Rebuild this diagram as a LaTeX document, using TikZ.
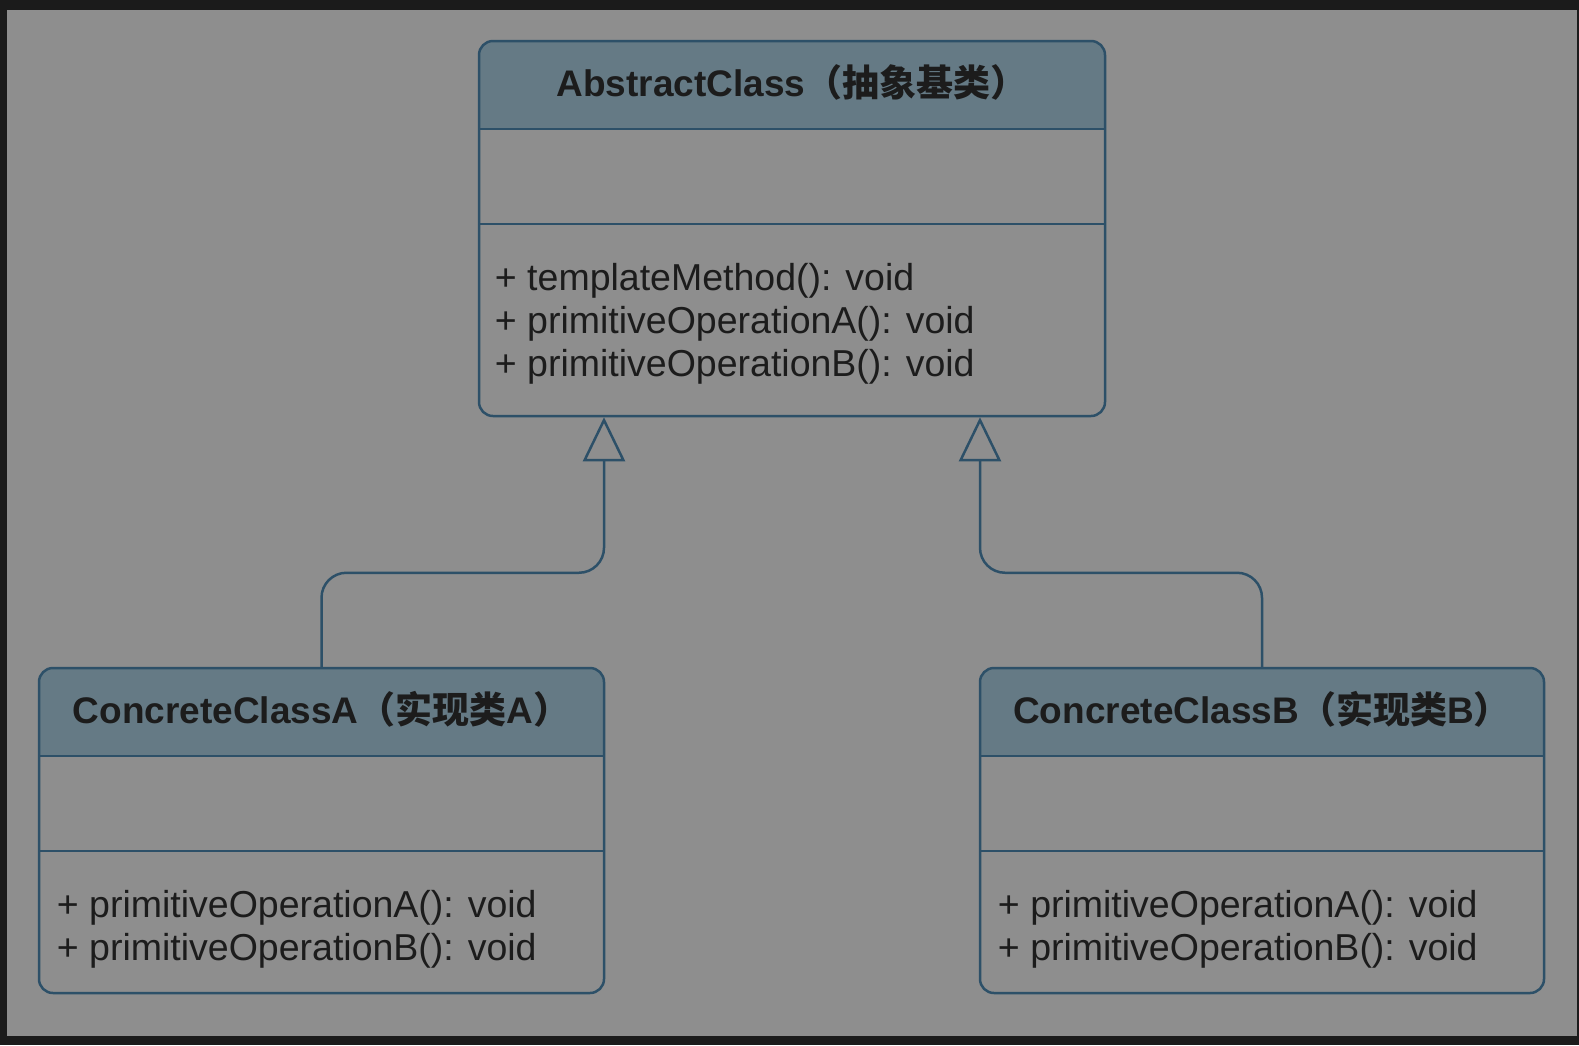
\documentclass[tikz,border=0pt]{standalone}
\usepackage{fontspec}
\setmainfont{Liberation Sans}
\newfontfamily\cjk{Noto Sans CJK SC}
\usetikzlibrary{arrows.meta,calc}

\definecolor{frame}{HTML}{1B1B1B}
\definecolor{bg}{HTML}{8E8E8E}
\definecolor{headfill}{HTML}{657A85}
\definecolor{edge}{HTML}{2D5068}
\definecolor{ink}{HTML}{1C1C1C}

\tikzset{
	umlclass/.style 2 args={draw=edge,line width=2.5pt,rounded corners=14pt,minimum width=#1,minimum height=#2,inner sep=0pt,
		path picture={
			\fill[headfill,sharp corners] (path picture bounding box.north west) rectangle ([yshift=-88pt]path picture bounding box.north east);
			\draw[edge,line width=2.5pt,sharp corners] ([yshift=-88pt]path picture bounding box.north west) -- ([yshift=-88pt]path picture bounding box.north east);
			\draw[edge,line width=2.5pt,sharp corners] ([yshift=-183pt]path picture bounding box.north west) -- ([yshift=-183pt]path picture bounding box.north east);
		}},
	ttl/.style={anchor=base,inner sep=0pt,text=ink,font=\fontsize{37pt}{44pt}\selectfont\bfseries},
	op/.style={anchor=base west,inner sep=0pt,text=ink,font=\fontsize{37.5pt}{44pt}\selectfont}
}

\begin{document}
\begin{tikzpicture}[x=1pt,y=-1pt,
	inherit/.style={draw=edge,line width=2.5pt,-{Triangle[open,length=44pt,width=42pt]}}]
	% frame and canvas
	\fill[frame] (0,0) rectangle (1579,1045);
	\fill[bg] (7,10) rectangle (1577,1036);

	% classes
	\node[umlclass={626pt}{375pt}] (abs) at (792,228.5) {};
	\node[umlclass={565pt}{325pt}] (clsA) at (321.5,830.5) {};
	\node[umlclass={564pt}{325pt}] (clsB) at (1262,830.5) {};

	\node[ttl] (absT) at ([yshift=-57pt]abs.north) {AbstractClass{\cjk （抽象基类）}};
	\node[ttl] (clsAT) at ([yshift=-57pt]clsA.north) {ConcreteClassA{\cjk （实现类}A{\cjk ）}};
	\node[ttl] (clsBT) at ([yshift=-57pt]clsB.north) {ConcreteClassB{\cjk （实现类}B{\cjk ）}};

	\foreach \m [count=\k] in {templateMethod,primitiveOperationA,primitiveOperationB}
		\node[op] (absOp\k) at ([xshift=17pt,yshift={-(208+\k*43)*1pt}]abs.north west) {+ \m(): void};
	\foreach \c in {clsA,clsB}
		\foreach \m [count=\k] in {primitiveOperationA,primitiveOperationB}
			\node[op] (\c Op\k) at ([xshift=19pt,yshift={-(208+\k*43)*1pt}]\c.north west) {+ \m(): void};

	% generalisation
	\coordinate (hookA) at ([xshift=-188pt]abs.south);
	\coordinate (hookB) at ([xshift=188pt]abs.south);
	\draw[inherit] (clsA.north) [rounded corners=25pt] -- ++(0,-94) -| (hookA);
	\draw[inherit] (clsB.north) [rounded corners=25pt] -- ++(0,-94) -| (hookB);
\end{tikzpicture}
\end{document}
